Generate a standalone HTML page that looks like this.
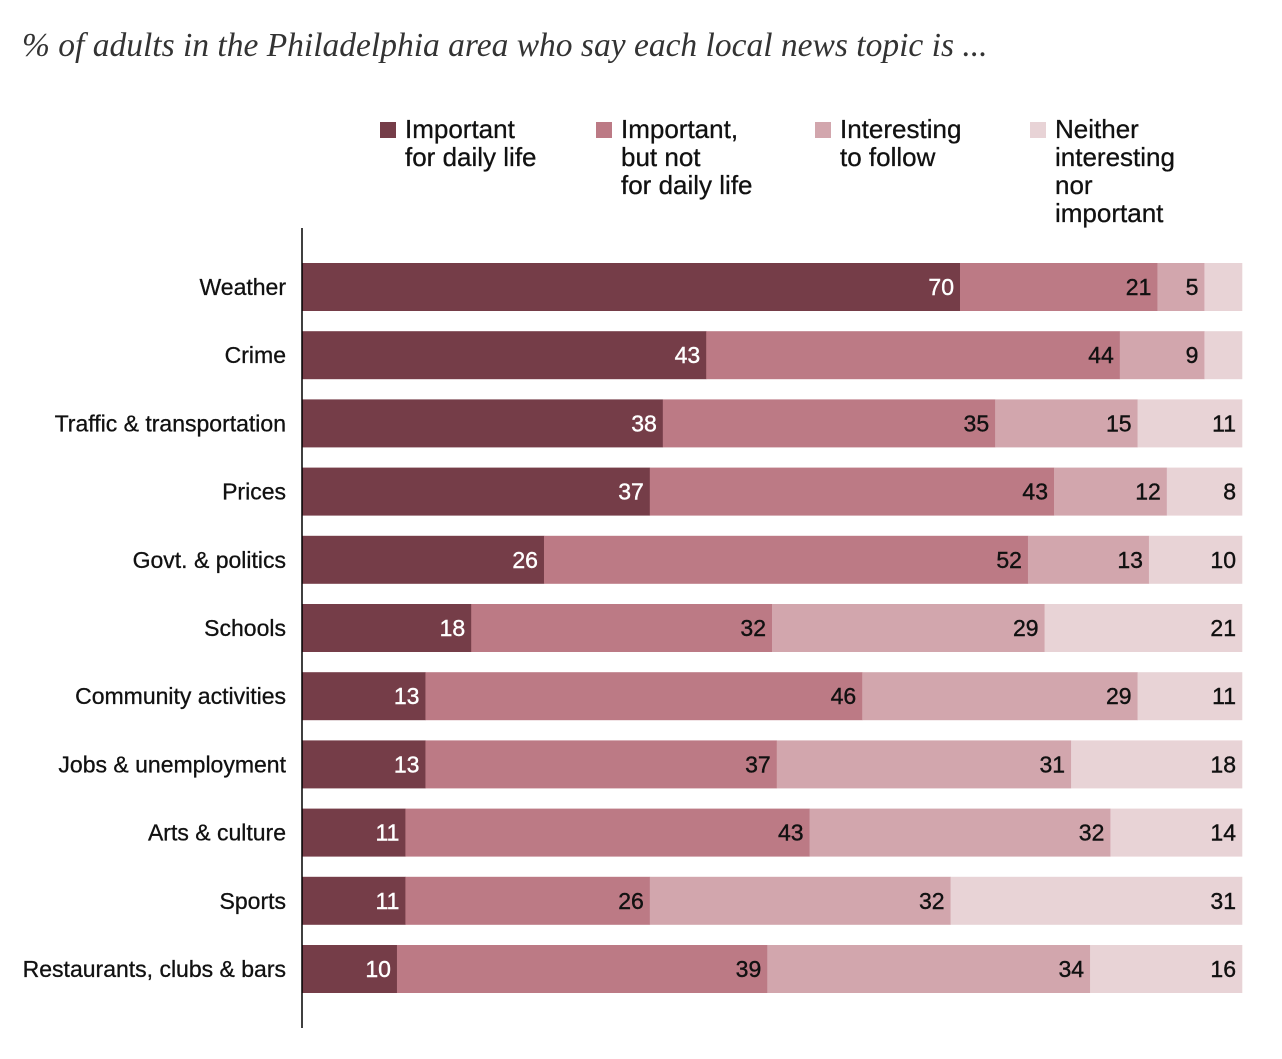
<!DOCTYPE html>
<html><head><meta charset="utf-8"><style>
body{margin:0;background:#fff;width:1282px;height:1054px;overflow:hidden;font-family:"Liberation Sans",sans-serif}
</style></head><body>
<svg id="chart" width="1282" height="1054">
<text x="22" y="56" font-family="Liberation Serif,serif" font-style="italic" font-size="33.5" fill="#333">% of adults in the Philadelphia area who say each local news topic is ...</text>
<g id="legend"></g>
<g id="bars"></g>
<line x1="302" y1="228" x2="302" y2="1028" stroke="#000" stroke-width="1.5"/>
</svg>
<script>
const categories=["Weather","Crime","Traffic & transportation","Prices","Govt. & politics","Schools","Community activities","Jobs & unemployment","Arts & culture","Sports","Restaurants, clubs & bars"];
const importantDaily=[70,43,38,37,26,18,13,13,11,11,10];
const importantNotDaily=[21,44,35,43,52,32,46,37,43,26,39];
const interesting=[5,9,15,12,13,29,29,31,32,32,34];
const neither=[4,4,11,8,10,21,11,18,14,31,16];
const showNeitherLabel=[false,false,true,true,true,true,true,true,true,true,true];
const seriesNames=[["Important","for daily life"],["Important,","but not","for daily life"],["Interesting","to follow"],["Neither","interesting","nor","important"]];
const colors=["#753d48","#bc7a85","#d2a6ad","#e8d3d6"];
const textColors=["#fff","#111","#111","#111"];
const NS="http://www.w3.org/2000/svg";
const x0=302,W=940,y0=263,step=68.2,bh=48;
function xs(v,total){return v/total*W;}
function ys(i){return y0+i*step;}
const bars=document.getElementById('bars');
const series=[importantDaily,importantNotDaily,interesting,neither];
categories.forEach((c,i)=>{
  const t=document.createElementNS(NS,'text');
  t.setAttribute('x',286);t.setAttribute('y',ys(i)+bh/2+8);t.setAttribute('text-anchor','end');
  t.setAttribute('font-size','23');t.setAttribute('fill','#111');t.setAttribute('stroke','#111');t.setAttribute('stroke-width','0.3');t.textContent=c;
  
  
  bars.appendChild(t);
  const total=series.reduce((s,a)=>s+a[i],0);
  let x=x0;
  series.forEach((a,k)=>{
    const w=xs(a[i],total);
    const r=document.createElementNS(NS,'rect');
    r.setAttribute('x',x);r.setAttribute('y',ys(i));r.setAttribute('width',w+0.3);r.setAttribute('height',bh);r.setAttribute('fill',colors[k]);
    
    
    bars.appendChild(r);
    if(k<3||showNeitherLabel[i]){
      const l=document.createElementNS(NS,'text');
      l.setAttribute('x',x+w-6);l.setAttribute('y',ys(i)+bh/2+8);l.setAttribute('text-anchor','end');
      l.setAttribute('font-size','23');l.setAttribute('fill',textColors[k]);l.setAttribute('stroke',textColors[k]);l.setAttribute('stroke-width','0.4');l.textContent=a[i];
      
      
      bars.appendChild(l);
    }
    x+=w;
  });
});
const lg=document.getElementById('legend');
const lx=[380,596,815,1030];
seriesNames.forEach((lines,k)=>{
  const r=document.createElementNS(NS,'rect');
  r.setAttribute('x',lx[k]);r.setAttribute('y',122);r.setAttribute('width',16);r.setAttribute('height',16);r.setAttribute('fill',colors[k]);
  
  
  lg.appendChild(r);
  lines.forEach((s,j)=>{
    const t=document.createElementNS(NS,'text');
    t.setAttribute('x',lx[k]+25);t.setAttribute('y',138+j*28);t.setAttribute('font-size','26');t.setAttribute('fill','#111');t.setAttribute('stroke','#111');t.setAttribute('stroke-width','0.3');t.textContent=s;
    
    
    lg.appendChild(t);
  });
});
</script>
</body></html>
